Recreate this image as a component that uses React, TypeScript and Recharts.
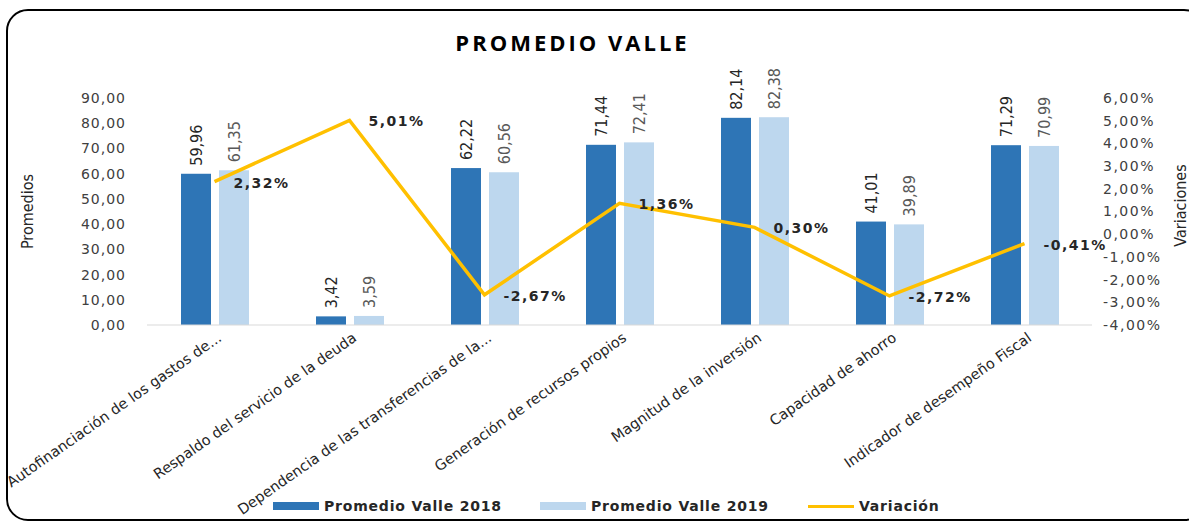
import React from "react";
import {
  ComposedChart,
  Bar,
  Line,
  XAxis,
  YAxis,
  LabelList,
} from "recharts";

// categories and values
const categories = [
  "Autofinanciación de los gastos de...",
  "Respaldo del servicio de la deuda",
  "Dependencia de las transferencias de la...",
  "Generación de recursos propios",
  "Magnitud de la inversión",
  "Capacidad de ahorro",
  "Indicador de desempeño Fiscal",
];
const valle2018 = [59.96, 3.42, 62.22, 71.44, 82.14, 41.01, 71.29];
const valle2019 = [61.35, 3.59, 60.56, 72.41, 82.38, 39.89, 70.99];
const variacion = [2.32, 5.01, -2.67, 1.36, 0.3, -2.72, -0.41];

const leftTicks = [0, 10, 20, 30, 40, 50, 60, 70, 80, 90];
const rightTicks = [-4, -3, -2, -1, 0, 1, 2, 3, 4, 5, 6];

const DARK = "#2E75B6";
const LIGHT = "#BDD7EE";
const YELLOW = "#FFC000";
const NARROW = "'Liberation Sans Narrow', 'DejaVu Sans Condensed', sans-serif";
const SANS = "'DejaVu Sans', sans-serif";

const data = categories.map((c, i) => ({
  name: c,
  v2018: valle2018[i],
  v2019: valle2019[i],
  variacion: variacion[i],
}));

const fmt = (v: number) => v.toFixed(2).replace(".", ",");

const CatTick = (props: any) => {
  const { x, y, payload } = props;
  return (
    <g transform={`translate(${x + 8},${y + 7})`}>
      <text
        textAnchor="end"
        transform="rotate(-35)"
        fontSize={14.5}
        fill="#262626"
        fontFamily={SANS}
      >
        {payload.value}
      </text>
    </g>
  );
};

// bar with its value written vertically above it
const makeBarShape = (key: string, fill: string, textColor: string) => (props: any) => {
  const { x, y, width, height, payload } = props;
  const cx = x + width / 2;
  const cy = y - 8;
  return (
    <g>
      <rect x={x} y={y} width={width} height={height} fill={fill} />
      <g transform={`translate(${cx},${cy}) rotate(-90)`}>
        <text
          x={0}
          y={0}
          textAnchor="start"
          dominantBaseline="central"
          fontSize={16}
          fill={textColor}
          fontFamily={NARROW}
        >
          {fmt(payload[key])}
        </text>
      </g>
    </g>
  );
};
const shape2018 = makeBarShape("v2018", DARK, "#262626");
const shape2019 = makeBarShape("v2019", LIGHT, "#595959");

const lineLabel = (props: any) => {
  const { x, y, value } = props;
  return (
    <text
      x={x + 19}
      y={y + 1}
      dominantBaseline="central"
      fontSize={14}
      fontWeight="bold"
      letterSpacing={1.5}
      fill="#262626"
      fontFamily={SANS}
    >
      {fmt(value) + "%"}
    </text>
  );
};

const legendItems = [
  { label: "Promedio Valle 2018", color: DARK, kind: "bar", left: 273 },
  { label: "Promedio Valle 2019", color: LIGHT, kind: "bar", left: 540 },
  { label: "Variación", color: YELLOW, kind: "line", left: 808 },
];

const axisTitle = (text: string, dx: number, dy: number) => (p: any) => {
  const vb = p.viewBox;
  const cx = vb.x + dx;
  const cy = vb.y + vb.height / 2 + dy;
  return (
    <g transform={`translate(${cx},${cy}) rotate(-90)`}>
      <text
        x={0}
        y={0}
        textAnchor="middle"
        dominantBaseline="central"
        fontSize={16}
        fill="#262626"
        fontFamily={NARROW}
      >
        {text}
      </text>
    </g>
  );
};

export default function App() {
  return (
    <div
      style={{
        position: "absolute",
        left: 0,
        top: 0,
        width: 1189,
        height: 525,
        overflow: "hidden",
        background: "#fff",
      }}
    >
      <div
        style={{
          position: "absolute",
          left: 6,
          top: 9,
          width: 1200,
          height: 512,
          border: "2px solid #000",
          borderRadius: 22,
          boxSizing: "border-box",
        }}
      />
      <div
        style={{
          position: "absolute",
          left: 0,
          width: 1145,
          top: 27,
          textAlign: "center",
          fontFamily: "'Open Sans', sans-serif",
          fontWeight: 700,
          fontSize: 22,
          letterSpacing: 3,
          color: "#000",
        }}
      >
        PROMEDIO VALLE
      </div>
      <div style={{ position: "absolute", left: 0, top: 0 }}>
        <ComposedChart
          width={1189}
          height={525}
          data={data}
          margin={{ top: 98, right: 0, bottom: 0, left: 0 }}
          barSize={30}
          barGap={8}
        >
          <XAxis
            dataKey="name"
            height={200}
            interval={0}
            tickLine={false}
            axisLine={{ stroke: "#d9d9d9" }}
            tick={<CatTick />}
          />
          <YAxis
            yAxisId="left"
            width={147}
            domain={[0, 90]}
            ticks={leftTicks}
            tickFormatter={fmt}
            axisLine={false}
            tickLine={false}
            tickMargin={15}
            tick={{ fill: "#404040", fontSize: 14, letterSpacing: 1, fontFamily: SANS }}
            label={{ value: "Promedios", content: axisTitle("Promedios", 27, 0) }}
          />
          <YAxis
            yAxisId="right"
            orientation="right"
            width={97}
            domain={[-4, 6]}
            ticks={rightTicks}
            tickFormatter={(v: number) => fmt(v) + "%"}
            axisLine={false}
            tickLine={false}
            tickMargin={5}
            tick={{
              fill: "#404040",
              fontSize: 14,
              letterSpacing: 1.5,
              fontFamily: SANS,
              textAnchor: "start",
            }}
            label={{ value: "Variaciones", content: axisTitle("Variaciones", 88, -6) }}
          />
          <Bar
            yAxisId="left"
            dataKey="v2018"
            fill={DARK}
            isAnimationActive={false}
            shape={shape2018}
          />
          <Bar
            yAxisId="left"
            dataKey="v2019"
            fill={LIGHT}
            isAnimationActive={false}
            shape={shape2019}
          />
          <Line
            yAxisId="right"
            type="linear"
            dataKey="variacion"
            stroke={YELLOW}
            strokeWidth={3.5}
            dot={false}
            activeDot={false}
            isAnimationActive={false}
          >
            <LabelList dataKey="variacion" content={lineLabel} />
          </Line>
        </ComposedChart>
      </div>
      {legendItems.map((it) => (
        <div
          key={it.label}
          style={{
            position: "absolute",
            left: it.left,
            top: 497,
            height: 18,
            display: "flex",
            alignItems: "center",
            fontFamily: SANS,
            fontWeight: 700,
            fontSize: 14,
            letterSpacing: 0.8,
            color: "#262626",
          }}
        >
          <span
            style={{
              display: "inline-block",
              width: 46,
              height: it.kind === "bar" ? 8 : 3,
              background: it.color,
              marginRight: 5,
            }}
          />
          {it.label}
        </div>
      ))}
    </div>
  );
}
